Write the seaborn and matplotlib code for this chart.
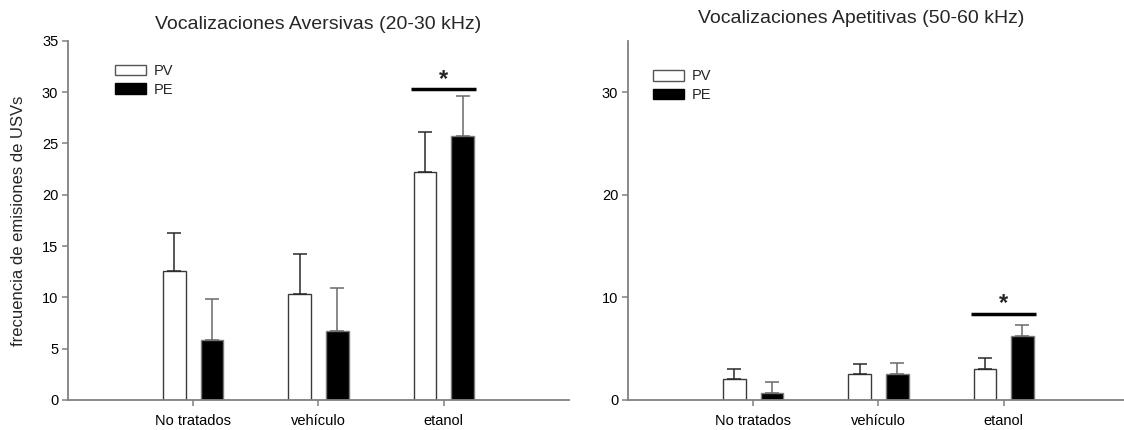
import matplotlib
matplotlib.use("Agg")
import matplotlib.pyplot as plt
import seaborn as sns
import pandas as pd
from matplotlib.patches import Patch

# Treatment groups and the two prenatal conditions
grupos = ["No tratados", "vehículo", "etanol"]
condiciones = ["PV", "PE"]

# Aversive calls (20-30 kHz): means and SEM
aversivas_pv = [12.6, 10.3, 22.2]
aversivas_pv_sem = [3.7, 3.9, 3.9]
aversivas_pe = [5.8, 6.7, 25.7]
aversivas_pe_sem = [4.0, 4.2, 3.9]

# Appetitive calls (50-60 kHz): means and SEM
apetitivas_pv = [2.0, 2.5, 3.0]
apetitivas_pv_sem = [1.0, 1.0, 1.1]
apetitivas_pe = [0.7, 2.5, 6.2]
apetitivas_pe_sem = [1.1, 1.1, 1.1]

# Significance bar heights (data units) over the "etanol" group
sig_aversivas = 30.3
sig_apetitivas = 8.4

sns.set_style("ticks")
plt.rcParams["font.family"] = ["Liberation Sans", "DejaVu Sans"]

SPINE = "#808080"


def tabla(pv, pe):
    return pd.DataFrame({
        "grupo": grupos * 2,
        "condicion": ["PV"] * 3 + ["PE"] * 3,
        "valor": list(pv) + list(pe),
    })


def panel(ax, pv, pv_sem, pe, pe_sem, yticks, titulo, tx, ty, leg_xy, sig_y):
    df = tabla(pv, pe)
    sns.barplot(data=df, x="grupo", y="valor", hue="condicion",
                hue_order=condiciones, order=grupos,
                palette={"PV": "white", "PE": "black"},
                width=0.6, gap=0.4, errorbar=None, ax=ax, legend=False)
    estilos = {"PV": ("#3a3a3a", "#2a2a2a"), "PE": ("#7a7a7a", "#6a6a6a")}
    for cont, cond, sem in zip(ax.containers, condiciones, [pv_sem, pe_sem]):
        edge, ecol = estilos[cond]
        xs, ys = [], []
        for p in cont:
            p.set_edgecolor(edge)
            p.set_linewidth(1.0)
            xs.append(p.get_x() + p.get_width() / 2)
            ys.append(p.get_height())
        ax.errorbar(xs, ys, yerr=[[0] * len(sem), sem], fmt="none",
                    ecolor=ecol, elinewidth=1.1, capsize=5, capthick=1.1,
                    zorder=1)
    ax.set_xlim(-1, 3)
    ax.set_ylim(0, 35)
    ax.set_yticks(yticks)
    ax.set_xlabel("")
    ax.set_ylabel("")
    sns.despine(ax=ax)
    for s in ("left", "bottom"):
        ax.spines[s].set_color(SPINE)
        ax.spines[s].set_linewidth(1.3)
    ax.tick_params(axis="both", colors=SPINE, labelcolor="black",
                   labelsize=10.5, length=4, width=1.1)
    ax.tick_params(axis="x", pad=6)
    ax.tick_params(axis="y", pad=3)
    ax.set_title(titulo, fontsize=14, x=tx, y=ty, va="center", pad=0)

    # significance bar and asterisk over the third group
    ax.plot([2 - 0.26, 2 + 0.26], [sig_y, sig_y], color="black", lw=2.5,
            solid_capstyle="butt", clip_on=False)
    ax.text(2, sig_y + 0.95, "*", ha="center", va="center", fontsize=17,
            fontweight="bold")

    handles = [Patch(facecolor="white", edgecolor="#555555", linewidth=1.0),
               Patch(facecolor="black", edgecolor="black", linewidth=1.0)]
    ax.legend(handles, condiciones, loc="upper left", bbox_to_anchor=leg_xy,
              frameon=False, fontsize=10.5, handlelength=2.15,
              handleheight=0.72, handletextpad=0.5, labelspacing=0.32,
              borderpad=0, borderaxespad=0)


fig = plt.figure(figsize=(11.24, 4.30), dpi=100)
ax1 = fig.add_axes([0.0605, 0.0698, 0.4457, 0.8355])
ax2 = fig.add_axes([0.5587, 0.0698, 0.4457, 0.8355])

panel(ax1, aversivas_pv, aversivas_pv_sem, aversivas_pe, aversivas_pe_sem,
      list(range(0, 36, 5)), "Vocalizaciones Aversivas (20-30 kHz)",
      0.5, 1.046, (0.094, 0.935), sig_aversivas)
panel(ax2, apetitivas_pv, apetitivas_pv_sem, apetitivas_pe, apetitivas_pe_sem,
      [0, 10, 20, 30], "Vocalizaciones Apetitivas (50-60 kHz)",
      0.465, 1.063, (0.05, 0.92), sig_apetitivas)

ax1.set_ylabel("frecuencia de emisiones de USVs", fontsize=12)
ax1.yaxis.set_label_coords(-0.083, 0.5)

fig.savefig("out.png", dpi=100, facecolor="white")
